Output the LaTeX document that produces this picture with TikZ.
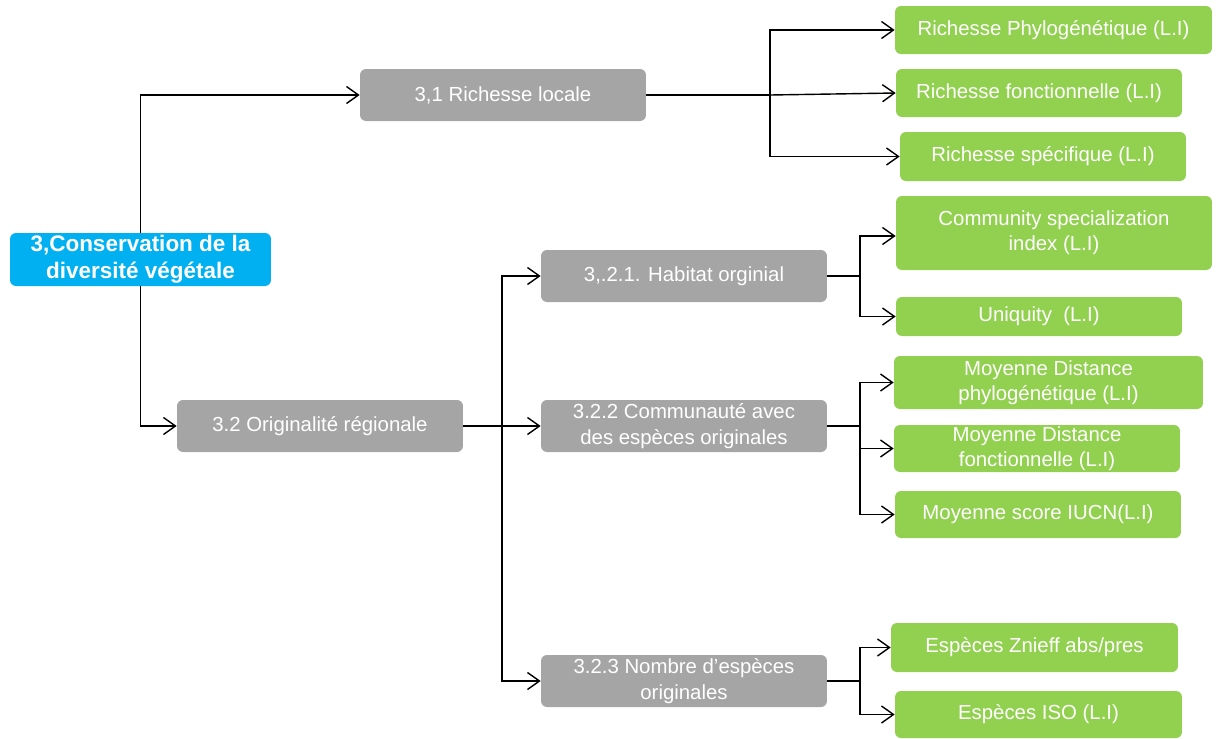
\documentclass[tikz,border=0pt]{standalone}
\usepackage{fontspec}
\setmainfont{Liberation Sans}
\usepackage{xcolor}
\usepackage{tikz}
\usetikzlibrary{positioning, arrows.meta}

\definecolor{rootblue}{HTML}{00B0F0}
\definecolor{boxgray}{HTML}{A5A5A5}
\definecolor{leafgreen}{HTML}{92D050}

\begin{document}
\begin{tikzpicture}[
    x=0.02cm, y=-0.02cm,
    rootnode/.style={rectangle, rounded corners=1.2mm, fill=rootblue, text=white, align=center,
        minimum width=5.22cm, minimum height=1.06cm, inner sep=0pt,
        font=\fontsize{12.8}{15.3}\selectfont\bfseries},
    graynode/.style={rectangle, rounded corners=1.2mm, fill=boxgray, text=white, align=center,
        minimum width=5.72cm, minimum height=1.04cm, inner sep=0pt,
        font=\fontsize{11.6}{14.4}\selectfont},
    greennode/.style={rectangle, rounded corners=1.2mm, fill=leafgreen, text=white, align=center,
        minimum width=5.72cm, minimum height=0.96cm, inner sep=0pt,
        font=\fontsize{11.6}{14.4}\selectfont},
    link/.style={draw=black, line width=0.8pt},
    arrowlink/.style={link, -{Straight Barb[length=2.4mm, width=3.4mm]}}
]
\useasboundingbox (0,0) rectangle (1216,738);

% main boxes
\node[rootnode](root) at (140.5,259.5){3,Conservation de la\\diversité végétale};
\node[graynode](local) at (503,95){3,1 Richesse locale};
\node[graynode](regional) at (320,426){3.2 Originalité régionale};
\node[graynode](habitat) at (684,276){3,.2.1. Habitat orginial};
\node[graynode](commu) at (684,426){3.2.2 Communauté avec\\des espèces originales};
\node[graynode](nombre) at (684,681){3.2.3 Nombre d’espèces\\originales};

% indicators
\node[greennode, minimum width=6.34cm](phylo) at (1053.5,30){Richesse Phylogénétique (L.I)};
\node[greennode](fonct) at (1039,93){Richesse fonctionnelle (L.I)};
\node[greennode, minimum height=0.98cm](spec) at (1043,156.5){Richesse spécifique (L.I)};
\node[greennode, minimum width=6.32cm, minimum height=1.48cm](csi) at (1054,233){Community specialization\\index (L.I)};
\node[greennode, minimum height=0.78cm](uniq) at (1039,316.5){Uniquity~ (L.I)};
\node[greennode, minimum width=6.18cm, minimum height=1.06cm](mdphylo) at (1048.5,382.5){Moyenne Distance\\phylogénétique (L.I)};
\node[greennode, minimum height=0.94cm](mdfonct) at (1037,448.5){Moyenne Distance\\fonctionnelle (L.I)};
\node[greennode, minimum height=0.94cm](iucn) at (1038,514.5){Moyenne score IUCN(L.I)};
\node[greennode, minimum width=5.74cm, minimum height=0.98cm](znieff) at (1034.5,647.5){Espèces Znieff abs/pres};
\node[greennode, minimum width=5.74cm, minimum height=0.94cm](iso) at (1038.5,714.5){Espèces ISO (L.I)};

% junctions
\coordinate (jlocal) at (770,95);
\coordinate (jregional) at (502,426);
\coordinate (jhabitat) at (860,276);
\coordinate (jcommu) at (860,426);
\coordinate (jnombre) at (860,681);

% connectors
\draw[arrowlink] (root.north) |- (local.west);
\draw[arrowlink] (root.south) |- (regional.west);

\draw[link, line width=1.6pt] (local.east) -- (jlocal);
\draw[arrowlink] (jlocal) |- (phylo.west);
\draw[arrowlink] (jlocal) -- (fonct.west);
\draw[arrowlink] (jlocal) |- (spec.west);

\draw[link] (regional.east) -- (jregional);
\draw[arrowlink] (jregional) |- (habitat.west);
\draw[arrowlink] (jregional) -- (commu.west);
\draw[arrowlink] (jregional) |- (nombre.west);

\draw[link] (habitat.east) -- (jhabitat);
\draw[arrowlink] (jhabitat) |- ([yshift=-0.06cm]csi.west);
\draw[arrowlink] (jhabitat) |- (uniq.west);

\draw[link] (commu.east) -- (jcommu);
\draw[arrowlink] (jcommu) |- (mdphylo.west);
\draw[arrowlink] (jcommu) |- (mdfonct.west);
\draw[arrowlink] (jcommu) |- (iucn.west);

\draw[link] (nombre.east) -- (jnombre);
\draw[arrowlink] (jnombre) |- (znieff.west);
\draw[arrowlink] (jnombre) |- (iso.west);
\end{tikzpicture}
\end{document}
